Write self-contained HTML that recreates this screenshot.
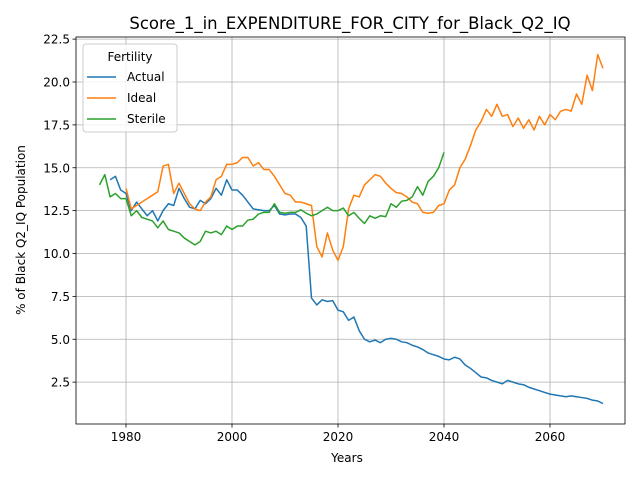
<!DOCTYPE html>
<html><head><meta charset="utf-8"><style>
body{margin:0;background:#fff;}
svg{font-family:"DejaVu Sans","Liberation Sans",sans-serif;}
</style></head><body>
<svg id="chart" width="640" height="480">
<rect width="640" height="480" fill="#fff"/>
<text x="350" y="29" font-size="16.5" text-anchor="middle">Score_1_in_EXPENDITURE_FOR_CITY_for_Black_Q2_IQ</text>
<g id="grid"></g><g id="series"></g><g id="axes"></g>
<text x="347" y="462" font-size="12" text-anchor="middle">Years</text>
<text transform="translate(25,230) rotate(-90)" font-size="12" text-anchor="middle">% of Black Q2_IQ Population</text>
<g>
<rect x="83" y="44" width="94" height="88" rx="3" fill="#fff" fill-opacity="0.8" stroke="#ccc"/>
<text x="130" y="61" font-size="12" text-anchor="middle">Fertility</text>
<line x1="87" y1="77" x2="116" y2="77" stroke="#1f77b4" stroke-width="1.5"/><text x="127" y="81" font-size="12">Actual</text>
<line x1="87" y1="98" x2="116" y2="98" stroke="#ff7f0e" stroke-width="1.5"/><text x="127" y="102" font-size="12">Ideal</text>
<line x1="87" y1="119" x2="116" y2="119" stroke="#2ca02c" stroke-width="1.5"/><text x="127" y="123" font-size="12">Sterile</text>
</g>
</svg>
<script>
const actualStart = 1977;
const actualValues = [14.3,14.5,13.7,13.5,12.5,13.0,12.6,12.2,12.5,11.9,12.5,12.9,12.8,13.8,13.2,12.7,12.6,13.1,12.9,13.2,13.8,13.4,14.3,13.7,13.7,13.4,13.0,12.6,12.55,12.5,12.5,12.8,12.3,12.25,12.3,12.3,12.1,11.6,7.4,7.0,7.3,7.2,7.25,6.7,6.6,6.1,6.3,5.5,5.0,4.85,4.95,4.8,5.0,5.05,5.0,4.85,4.8,4.65,4.55,4.4,4.2,4.1,4.0,3.85,3.8,3.95,3.85,3.5,3.3,3.05,2.8,2.75,2.6,2.5,2.4,2.6,2.5,2.4,2.35,2.2,2.1,2.0,1.9,1.8,1.75,1.7,1.65,1.7,1.65,1.6,1.55,1.45,1.4,1.25];
const idealStart = 1980;
const idealValues = [13.8,12.6,12.8,13.0,13.2,13.4,13.6,15.1,15.2,13.5,14.1,13.5,12.9,12.6,12.5,13.0,13.3,14.3,14.5,15.2,15.2,15.3,15.6,15.6,15.1,15.3,14.9,14.9,14.5,14.0,13.5,13.4,13.0,13.0,12.9,12.8,10.4,9.8,11.2,10.2,9.6,10.4,12.6,13.4,13.3,14.0,14.3,14.6,14.5,14.1,13.8,13.55,13.5,13.3,13.0,12.9,12.4,12.35,12.4,12.8,12.9,13.7,14.0,15.0,15.5,16.3,17.2,17.7,18.4,18.0,18.7,18.0,18.1,17.4,17.9,17.3,17.8,17.2,18.0,17.5,18.1,17.8,18.3,18.4,18.3,19.3,18.7,20.4,19.5,21.6,20.8];
const sterileStart = 1975;
const sterileValues = [14.0,14.6,13.3,13.5,13.2,13.2,12.2,12.5,12.1,12.0,11.9,11.5,11.9,11.4,11.3,11.2,10.9,10.7,10.5,10.7,11.3,11.2,11.3,11.1,11.6,11.4,11.6,11.6,11.95,12.0,12.3,12.4,12.4,12.9,12.4,12.35,12.4,12.4,12.55,12.35,12.2,12.3,12.5,12.7,12.5,12.5,12.65,12.2,12.4,12.05,11.75,12.2,12.05,12.2,12.15,12.9,12.7,13.05,13.1,13.3,13.9,13.4,14.2,14.5,15.0,15.9];
const xTicks = [1980,2000,2020,2040,2060];
const yTicks = [2.5,5.0,7.5,10.0,12.5,15.0,17.5,20.0,22.5];

const L=76,R=625,T=37,B=424;
const xs = y => 126 + (y-1980)*5.3;
const ys = v => 425 - v*17.15;
const NS="http://www.w3.org/2000/svg";
function mk(tag, attrs, parent){const e=document.createElementNS(NS,tag);for(const k in attrs)e.setAttribute(k,attrs[k]);parent.appendChild(e);return e;}
const grid=document.getElementById('grid'), axes=document.getElementById('axes'), ser=document.getElementById('series');
xTicks.forEach(t=>{
  const g=mk('line',{x1:xs(t),x2:xs(t),y1:T,y2:B,stroke:'#b0b0b0','stroke-width':0.8},grid);
  
  
  mk('line',{x1:xs(t),x2:xs(t),y1:B,y2:B+3.5,stroke:'#000','stroke-width':0.8},axes);
  const tx=mk('text',{x:xs(t),y:B+17,'font-size':12,'text-anchor':'middle'},axes);
  tx.textContent=t;
  
  
});
yTicks.forEach(t=>{
  const g=mk('line',{x1:L,x2:R,y1:ys(t),y2:ys(t),stroke:'#b0b0b0','stroke-width':0.8},grid);
  
  
  mk('line',{x1:L-3.5,x2:L,y1:ys(t),y2:ys(t),stroke:'#000','stroke-width':0.8},axes);
  const tx=mk('text',{x:L-6,y:ys(t)+4.5,'font-size':12,'text-anchor':'end'},axes);
  tx.textContent=t.toFixed(1);
  
  
});
const frame=mk('rect',{x:L,y:T,width:R-L,height:B-T,fill:'none',stroke:'#000','stroke-width':0.8},axes);


function line(start, vals, color, name){
  const d=vals.map((v,i)=>(i?'L':'M')+xs(start+i).toFixed(2)+','+ys(v).toFixed(2)).join('');
  const p=mk('path',{d:d,fill:'none',stroke:color,'stroke-width':1.5,'stroke-linejoin':'round'},ser);
  
  
}
line(actualStart,actualValues,'#1f77b4','actual-line');
line(idealStart,idealValues,'#ff7f0e','ideal-line');
line(sterileStart,sterileValues,'#2ca02c','sterile-line');
</script>
</body></html>
